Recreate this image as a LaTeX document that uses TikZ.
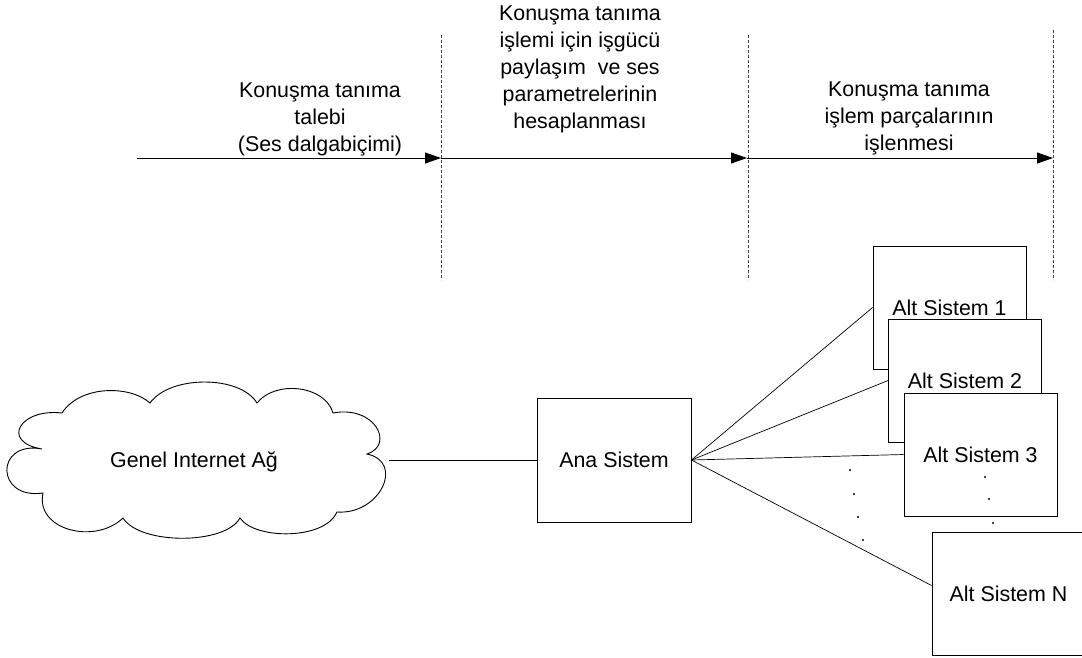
\documentclass[tikz,border=0pt]{standalone}
\usepackage{fontspec}
\setmainfont{Liberation Sans}
\usetikzlibrary{arrows.meta}
\begin{document}
\begin{tikzpicture}[x=1pt,y=-1pt,
  txt/.style={font=\fontsize{21.4}{27}\selectfont, align=center, inner sep=0pt},
  flow/.style={line width=0.9pt, -{Triangle[length=16pt,width=11pt]}},
  sep/.style={line width=0.7pt, black!75, dash pattern=on 3pt off 2pt},
  sysbox/.style={draw, line width=0.9pt, fill=white, minimum width=153pt,
    minimum height=123pt, inner sep=0pt, font=\fontsize{21.4}{27}\selectfont},
  link/.style={line width=0.7pt},
  dot/.style={circle, fill=black, inner sep=0pt, minimum size=2.2pt}
]
\useasboundingbox (0,0) rectangle (1082,657);

% stage separators
\coordinate (s1a) at (441,35);   \coordinate (s1b) at (441,280);
\coordinate (s2a) at (748,35);   \coordinate (s2b) at (748,280);
\coordinate (s3a) at (1053,30);  \coordinate (s3b) at (1053,280);
\draw[sep] (s1a) -- (s1b);
\draw[sep] (s2a) -- (s2b);
\draw[sep] (s3a) -- (s3b);

% time line
\coordinate (t0) at (137,158);
\coordinate (t1) at (441,158);
\coordinate (t2) at (747,158);
\coordinate (t3) at (1053,158);
\draw[flow] (t0) -- (t1);
\draw[flow] (t1) -- (t2);
\draw[flow] (t2) -- (t3);

% stage labels
\node[txt] (lab1) at (320,119) {Konuşma tanıma\\talebi\\(Ses dalgabiçimi)};
\node[txt] (lab2) at (580,69) {Konuşma tanıma\\işlemi için işgücü\\paylaşım\ \ ve ses\\parametrelerinin\\hesaplanması};
\node[txt] (lab3) at (909,118) {Konuşma tanıma\\işlem parçalarının\\işlenmesi};

% internet cloud
\draw[line width=0.9pt]
  (42,449) .. controls (-5,440) and (-5,500) .. (43,493)
  .. controls (35,530) and (95,545) .. (123,518)
  .. controls (140,545) and (225,545) .. (240,518)
  .. controls (255,540) and (325,540) .. (337,512)
  .. controls (380,515) and (405,462) .. (367,454)
  .. controls (395,445) and (375,405) .. (333,413)
  .. controls (325,385) and (275,380) .. (257,403)
  .. controls (240,375) and (170,375) .. (150,403)
  .. controls (130,385) and (80,385) .. (62,413)
  .. controls (20,408) and (0,442) .. cycle;
\node[txt] (cloud) at (194,462) {Genel Internet Ağ};
\coordinate (cloudR) at (389,460);

% main system
\node[sysbox, minimum width=154pt, minimum height=124pt] (ana) at (614,460) {Ana Sistem};

% sub systems
\node[sysbox] (alt1) at (949.5,307.5) {Alt Sistem 1};
\node[sysbox] (alt2) at (965,380.5) {Alt Sistem 2};
\node[sysbox] (alt3) at (980.5,454.5) {Alt Sistem 3};
\node[sysbox] (altN) at (1008.5,593.5) {Alt Sistem N};

% connections
\draw[link] (cloudR) -- (ana.west);
\draw[link] (ana.east) -- (alt1.west);
\draw[link] (ana.east) -- (alt2.west);
\draw[link] (ana.east) -- (alt3.west);
\draw[link] (ana.east) -- ([yshift=8pt]altN.west);

% ellipsis dots
\node[dot] (d1) at (850,470) {};
\node[dot] (d2) at (854,494) {};
\node[dot] (d3) at (858,517) {};
\node[dot] (d4) at (863,540) {};
\node[dot] (e1) at (985,477) {};
\node[dot] (e2) at (989,499) {};
\node[dot] (e3) at (993,523) {};
\end{tikzpicture}
\end{document}
